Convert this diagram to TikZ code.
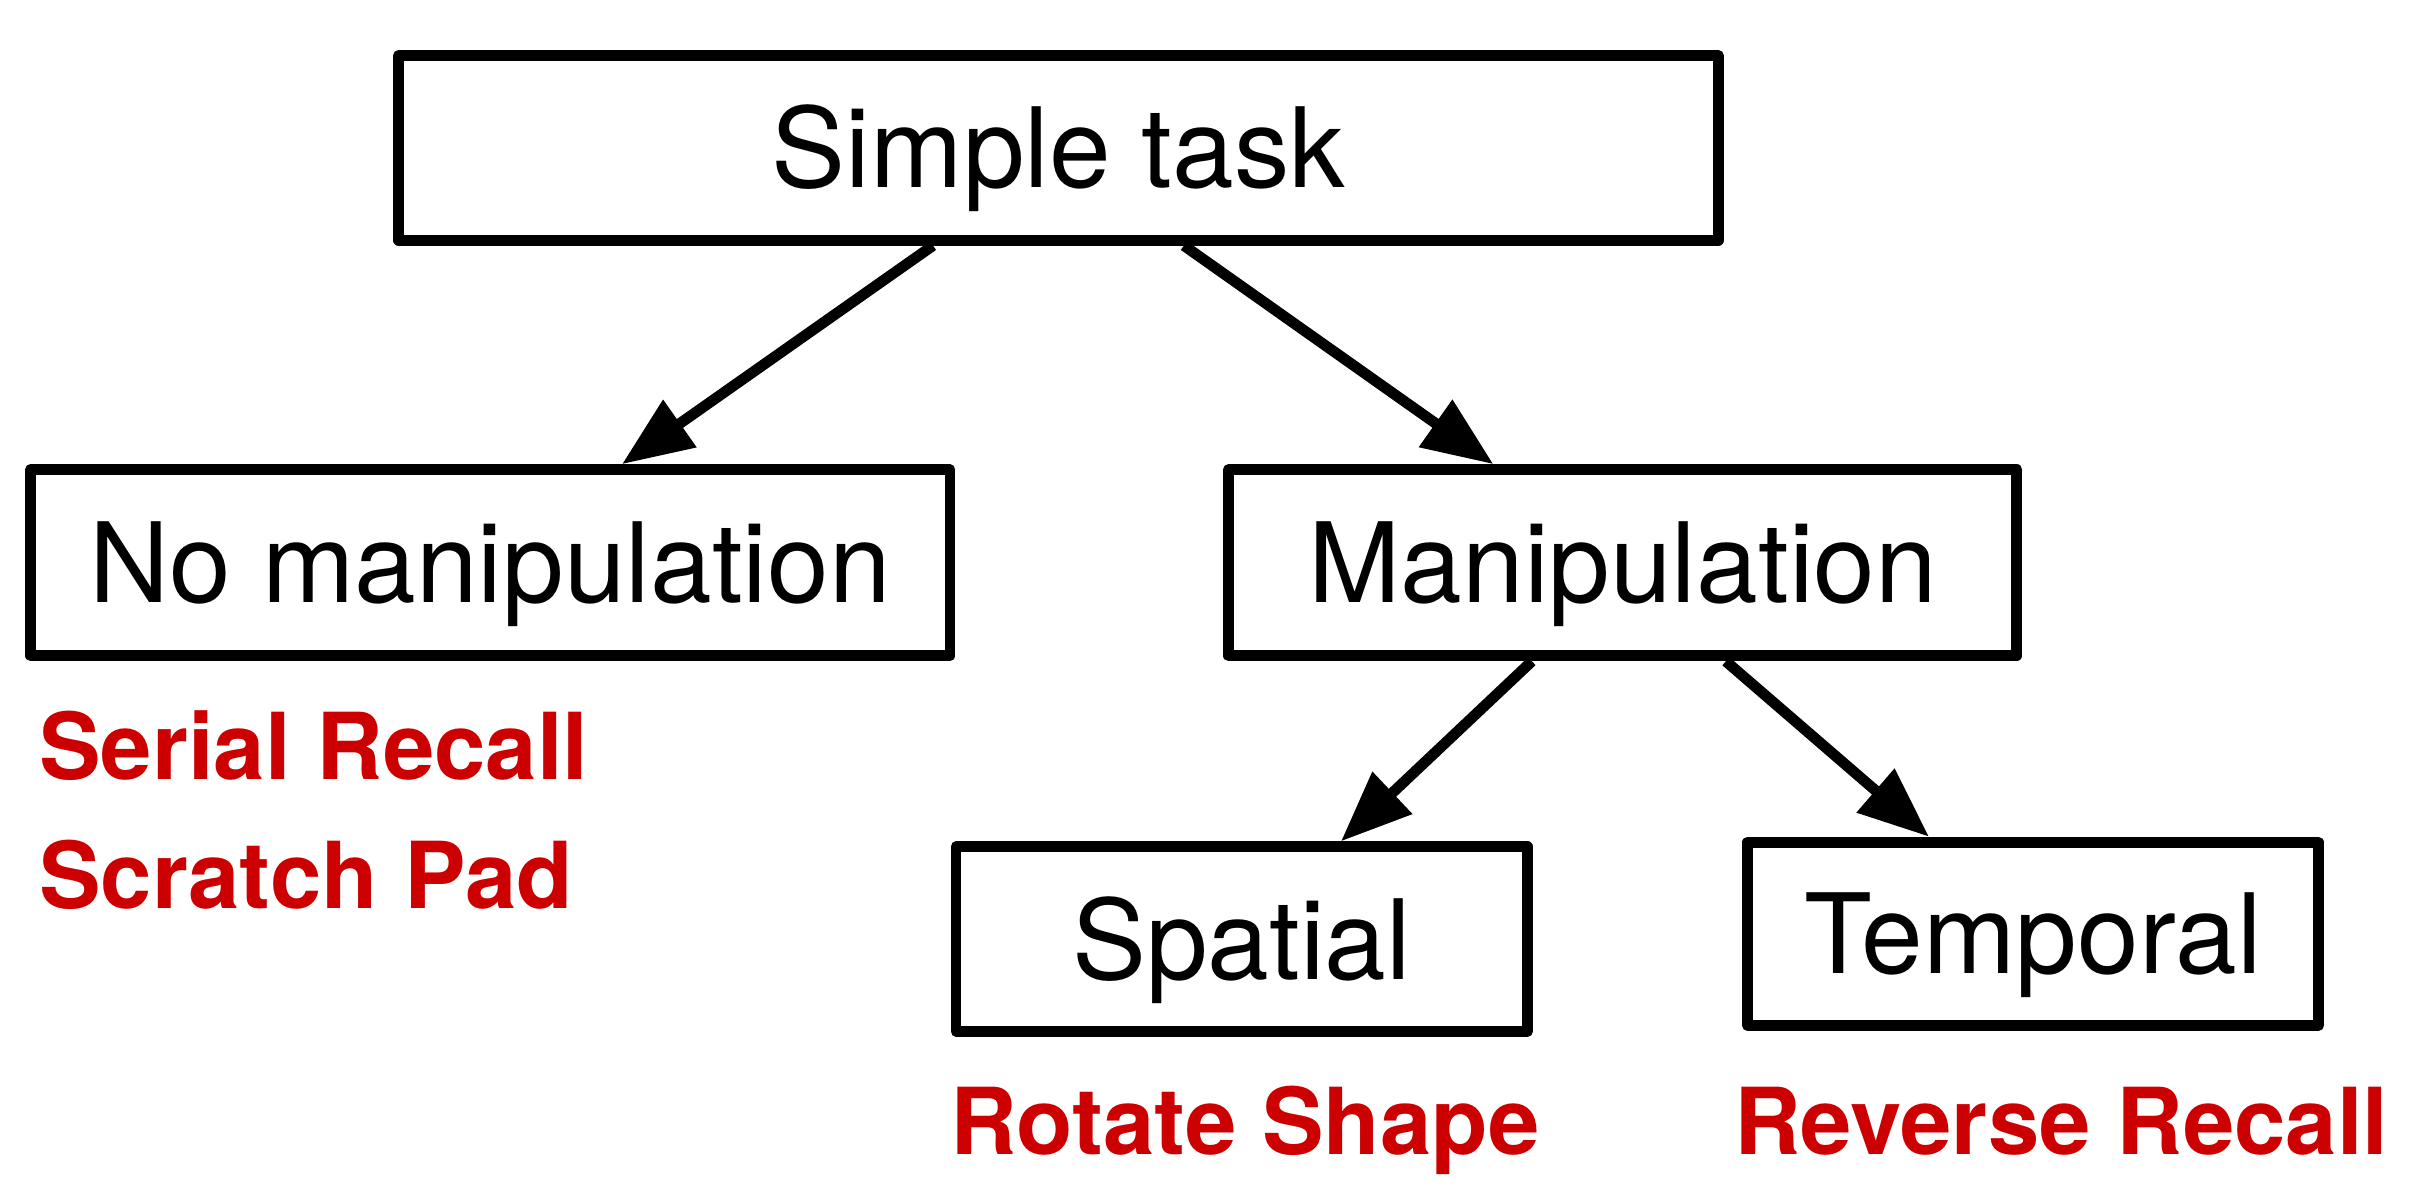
\documentclass[tikz,border=0pt]{standalone}
\usepackage{fontspec}
\setmainfont{TeX Gyre Heros}
\usetikzlibrary{arrows.meta}
\definecolor{lblred}{HTML}{CC0000}
\begin{document}
\begin{tikzpicture}[x=0.5pt,y=-0.5pt,
  box/.style={draw=black, line width=3.5pt, line join=round, rectangle, inner sep=0pt,
    font=\fontsize{36}{40}\selectfont, text height=26pt, text depth=0pt},
  arr/.style={line width=3.5pt, -{Triangle[length=23pt,width=18pt]}},
  lbl/.style={text=lblred, anchor=base west, inner sep=0pt, font=\fontsize{30}{34}\selectfont\bfseries}]
\useasboundingbox (0,0) rectangle (1568,772);
\node[box, minimum width=857*0.5pt, minimum height=120*0.5pt] (st) at (687.5,96) {Simple task};
\node[box, minimum width=597*0.5pt, minimum height=121*0.5pt] (nm) at (318.5,365.5) {No manipulation};
\node[box, minimum width=512*0.5pt, minimum height=121*0.5pt] (mp) at (1054,365.5) {Manipulation};
\node[box, minimum width=371*0.5pt, minimum height=120*0.5pt] (sp) at (806.5,610) {Spatial};
\node[box, minimum width=371*0.5pt, minimum height=119*0.5pt] (tp) at (1320.5,606.5) {Temporal};
\draw[arr] (606,0 |- st.south) -- (404,0 |- nm.north);
\draw[arr] (769,0 |- st.south) -- (970,0 |- mp.north);
\draw[arr] (995,0 |- mp.south) -- (871,0 |- sp.north);
\draw[arr] (1121,0 |- mp.south) -- (1253,0 |- tp.north);
\node[lbl] (l1) at (25,506) {Serial Recall};
\node[lbl] (l2) at (25,590) {Scratch Pad};
\node[lbl] (l3) at (617,750) {Rotate Shape};
\node[lbl] (l4) at (1126,750) {Reverse Recall};
\end{tikzpicture}
\end{document}
